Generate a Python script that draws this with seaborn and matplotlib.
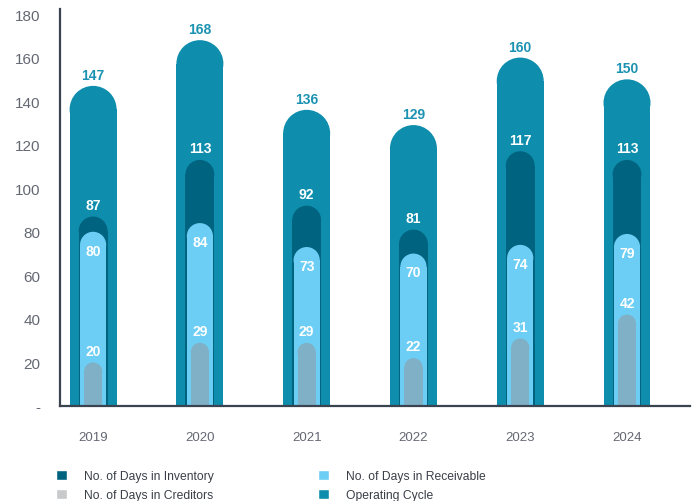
import numpy as np
import pandas as pd
import matplotlib
matplotlib.use("Agg")
import matplotlib.pyplot as plt
import seaborn as sns
from matplotlib.patches import Ellipse, Patch

years = ["2019", "2020", "2021", "2022", "2023", "2024"]
operating = [147, 168, 136, 129, 160, 150]
inventory = [87, 113, 92, 81, 117, 113]
receivable = [80, 84, 73, 70, 74, 79]
creditors = [20, 29, 29, 22, 31, 42]
yticks = [0, 20, 40, 60, 80, 100, 120, 140, 160, 180]
ytick_labels = ["-", "20", "40", "60", "80", "100", "120", "140", "160", "180"]

C_OP = "#0E8EAC"
C_OP_TXT = "#1B92B2"
C_INV = "#006480"
C_REC = "#6DCEF5"
C_CRED_BAR = "#7FB0C6"
C_CRED_LEG = "#C8C9CB"
C_SPINE = "#3B4350"
C_TICK = "#646873"

df = pd.DataFrame({"year": years, "operating": operating, "inventory": inventory,
                   "receivable": receivable, "creditors": creditors})

sns.set_theme(style="white")
plt.rcParams["font.family"] = ["Liberation Sans Narrow", "Liberation Sans", "DejaVu Sans"]

W, H = 694, 502
fig = plt.figure(figsize=(W / 100, H / 100), dpi=100)
fig.patch.set_facecolor("white")
ax = fig.add_axes([60 / W, 95 / H, 630 / W, 397 / H])

series = [("operating", 0.44, C_OP, 2), ("inventory", 0.27, C_INV, 3),
          ("receivable", 0.245, C_REC, 4), ("creditors", 0.17, C_CRED_BAR, 5)]

groups = []
for col, w, c, z in series:
    n0 = len(ax.patches)
    sns.barplot(data=df, x="year", y=col, width=w, color=c, saturation=1,
                linewidth=0, errorbar=None, ax=ax, zorder=z)
    groups.append((list(ax.patches[n0:]), c, z))

xlim = (-0.31, 5.59)
ylim = (0, 182.3)
ax.set_xlim(*xlim)
ax.set_ylim(*ylim)

px_x = 630 / (xlim[1] - xlim[0])
px_y = 397 / (ylim[1] - ylim[0])

# round the tops of the bars into pill shapes
for patches, c, z in groups:
    for p in patches:
        x0, w, h = p.get_x(), p.get_width(), p.get_height()
        r = (w * px_x / 2) / px_y
        p.set_height(h - r)
        ax.add_patch(Ellipse((x0 + w / 2, h - r), w, 2 * r, facecolor=c,
                             edgecolor="none", zorder=z))

# value labels
lab_kw = dict(textcoords="offset points", ha="center", fontsize=10,
              fontweight="bold", zorder=10, family=["Liberation Sans", "DejaVu Sans"])
for i in range(len(years)):
    ax.annotate(str(operating[i]), (i, operating[i]), xytext=(0, 5), va="baseline",
                color=C_OP_TXT, **lab_kw)
    ax.annotate(str(inventory[i]), (i, inventory[i]), xytext=(0, 5.5), va="baseline",
                color="white", **lab_kw)
    ax.annotate(str(receivable[i]), (i, receivable[i]), xytext=(0, -8.5), va="top",
                color="white", **lab_kw)
    ax.annotate(str(creditors[i]), (i, creditors[i]), xytext=(0, 5.5), va="baseline",
                color="white", **lab_kw)

ax.set_xlabel("")
ax.set_ylabel("")
ax.set_yticks(yticks)
ax.set_yticklabels(ytick_labels)
ax.tick_params(axis="y", length=0, pad=14, labelsize=11, labelcolor=C_TICK)
ax.tick_params(axis="x", length=0, pad=18, labelsize=9.5, labelcolor=C_TICK)

for s in ["top", "right"]:
    ax.spines[s].set_visible(False)
for s in ["left", "bottom"]:
    ax.spines[s].set_color(C_SPINE)
    ax.spines[s].set_linewidth(1.6)
    ax.spines[s].set_zorder(20)

leg_kw = dict(loc="upper left", frameon=False, borderpad=0, borderaxespad=0,
              handlelength=0.9, handleheight=0.9, handletextpad=1.45,
              labelspacing=0.55, fontsize=8.7, labelcolor="#3a3f48")
h1 = [Patch(facecolor=C_INV, label="No. of Days in Inventory"),
      Patch(facecolor=C_CRED_LEG, label="No. of Days in Creditors")]
h2 = [Patch(facecolor=C_REC, label="No. of Days in Receivable"),
      Patch(facecolor=C_OP, label="Operating Cycle")]
fig.legend(handles=h1, bbox_to_anchor=(56 / W, 31 / H), **leg_kw)
fig.legend(handles=h2, bbox_to_anchor=(318 / W, 31 / H), **leg_kw)

fig.savefig("out.png", dpi=100, facecolor="white")
